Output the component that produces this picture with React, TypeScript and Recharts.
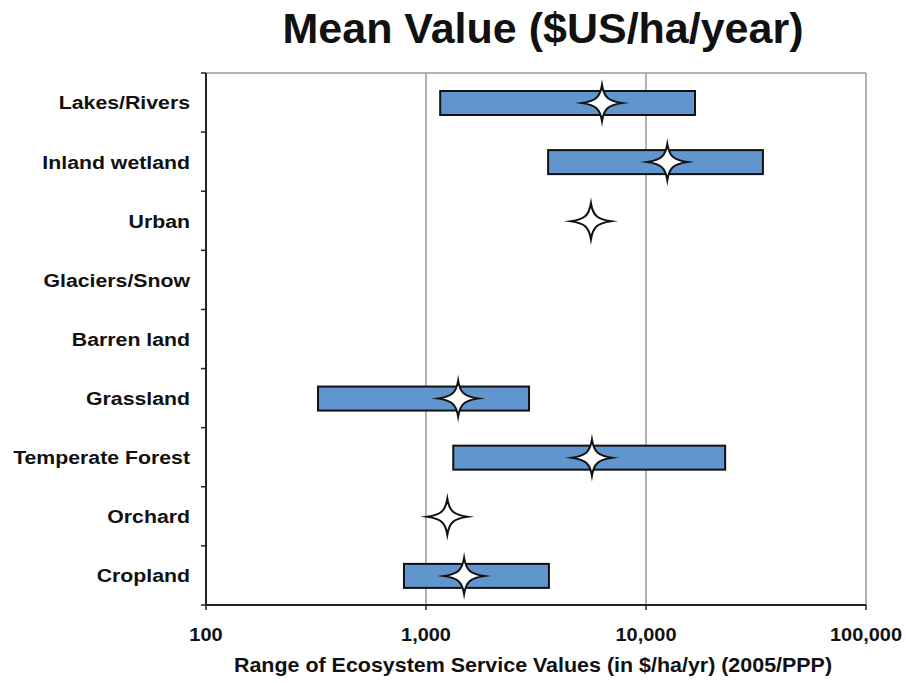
import React from 'react'
import { BarChart, Bar, XAxis, YAxis, CartesianGrid, Label } from 'recharts'

// Land-cover categories, top to bottom
const categories = [
  'Lakes/Rivers',
  'Inland wetland',
  'Urban',
  'Glaciers/Snow',
  'Barren land',
  'Grassland',
  'Temperate Forest',
  'Orchard',
  'Cropland',
]

// Range of values ($/ha/yr); null where no range is reported
const lowValues = [1160, 3590, null, null, null, 323, 1330, null, 794]
const highValues = [16700, 34000, null, null, null, 2940, 22900, null, 3620]

// Mean value (star marker)
const meanValues = [6310, 12500, 5620, null, null, 1400, 5680, 1250, 1490]

const xTicks = [100, 1000, 10000, 100000]

const data = categories.map((name, i) => ({
  name,
  range: lowValues[i] != null && highValues[i] != null ? [lowValues[i], highValues[i]] : null,
  mean: meanValues[i],
}))

const WIDTH = 906
const HEIGHT = 683
const MARGIN = { top: 72, right: 40, bottom: 0, left: 0 }
const TOP_AXIS_H = 1
const X_AXIS_H = 78
const Y_AXIS_W = 206
const PLOT_H = HEIGHT - MARGIN.top - MARGIN.bottom - X_AXIS_H - TOP_AXIS_H
const BAND = PLOT_H / categories.length
const FONT = '"Liberation Sans", Arial, sans-serif'
const INK = '#111'

const fmt = (v: number) => v.toLocaleString('en-US')

function CategoryTick(props: any) {
  const { x, y, payload, index } = props
  const last = index === categories.length - 1
  return (
    <g>
      <text
        transform={`translate(${x - 16},${y}) scale(1.12,1)`}
        dy="0.36em"
        textAnchor="end"
        fontFamily={FONT}
        fontWeight="bold"
        fontSize={19}
        fill={INK}
      >
        {payload.value}
      </text>
      <line x1={x - 5} x2={x} y1={y - BAND / 2} y2={y - BAND / 2} stroke="#222" strokeWidth={1.5} />
      {last && (
        <line x1={x - 5} x2={x} y1={y + BAND / 2} y2={y + BAND / 2} stroke="#222" strokeWidth={1.5} />
      )}
    </g>
  )
}

function ValueTick(props: any) {
  const { x, y, payload } = props
  return (
    <text
      transform={`translate(${x},${y}) scale(1.05,1)`}
      dy="0.71em"
      textAnchor="middle"
      fontFamily={FONT}
      fontWeight="bold"
      fontSize={19}
      fill={INK}
    >
      {fmt(payload.value)}
    </text>
  )
}

function AxisTitle(props: any) {
  const { viewBox } = props
  const cx = viewBox.x + viewBox.width / 2 - 3
  const y = viewBox.y + viewBox.height - 11
  return (
    <text
      transform={`translate(${cx},${y}) scale(1.1,1)`}
      textAnchor="middle"
      fontFamily={FONT}
      fontWeight="bold"
      fontSize={19.5}
      fill={INK}
    >
      Range of Ecosystem Service Values (in $/ha/yr) (2005/PPP)
    </text>
  )
}

function RangeBar(props: any) {
  const { x, y, width, height, payload } = props
  if (!payload || !payload.range || !isFinite(width)) return <g />
  return <rect x={x} y={y} width={width} height={height} fill="#6096cd" stroke={INK} strokeWidth={2} />
}

function Star(props: any) {
  const { x, y, width, height, payload } = props
  if (!payload || payload.mean == null || !isFinite(width)) return <g />
  const cx = x + width
  const cy = y + height / 2
  const w = 20
  const h = 18
  const a = 6
  const b = 2
  const d =
    `M ${cx - w} ${cy} C ${cx - a} ${cy - b} ${cx - b} ${cy - a} ${cx} ${cy - h} ` +
    `C ${cx + b} ${cy - a} ${cx + a} ${cy - b} ${cx + w} ${cy} ` +
    `C ${cx + a} ${cy + b} ${cx + b} ${cy + a} ${cx} ${cy + h} ` +
    `C ${cx - b} ${cy + a} ${cx - a} ${cy + b} ${cx - w} ${cy} Z`
  return <path d={d} fill="#fff" stroke={INK} strokeWidth={2} strokeLinejoin="miter" strokeMiterlimit={10} />
}

export default function App() {
  return (
    <div style={{ position: 'absolute', left: 0, top: 0, width: WIDTH, height: HEIGHT, background: '#fff' }}>
      <div
        style={{
          position: 'absolute',
          left: 0,
          top: 8,
          width: 1086,
          textAlign: 'center',
          fontFamily: FONT,
          fontWeight: 'bold',
          fontSize: 43,
          lineHeight: '41px',
          color: INK,
        }}
      >
        Mean Value ($US/ha/year)
      </div>
      <BarChart width={WIDTH} height={HEIGHT} data={data} layout="vertical" margin={MARGIN}>
        <CartesianGrid horizontal={false} stroke="#999" strokeWidth={1.5} />
        <XAxis
          type="number"
          scale="log"
          domain={[100, 100000]}
          ticks={xTicks}
          allowDataOverflow
          height={X_AXIS_H}
          tickSize={5}
          tickMargin={17}
          axisLine={{ stroke: '#222', strokeWidth: 2 }}
          tickLine={{ stroke: '#222', strokeWidth: 1.5 }}
          tick={<ValueTick />}
        >
          <Label position="insideBottom" content={<AxisTitle />} />
        </XAxis>
        <XAxis
          xAxisId="top"
          orientation="top"
          type="number"
          scale="log"
          domain={[100, 100000]}
          ticks={xTicks}
          allowDataOverflow
          height={TOP_AXIS_H}
          tick={false}
          tickLine={false}
          axisLine={{ stroke: '#999', strokeWidth: 1.5 }}
        />
        <YAxis
          yAxisId="cat"
          type="category"
          dataKey="name"
          width={Y_AXIS_W}
          tickLine={false}
          tickSize={0}
          tickMargin={0}
          interval={0}
          axisLine={{ stroke: '#222', strokeWidth: 2 }}
          tick={<CategoryTick />}
        />
        <YAxis yAxisId="star" type="category" dataKey="name" hide />
        <Bar yAxisId="cat" dataKey="range" barSize={24} shape={<RangeBar />} isAnimationActive={false} />
        <Bar
          xAxisId="top"
          yAxisId="star"
          dataKey="mean"
          barSize={24}
          shape={<Star />}
          isAnimationActive={false}
        />
      </BarChart>
    </div>
  )
}
